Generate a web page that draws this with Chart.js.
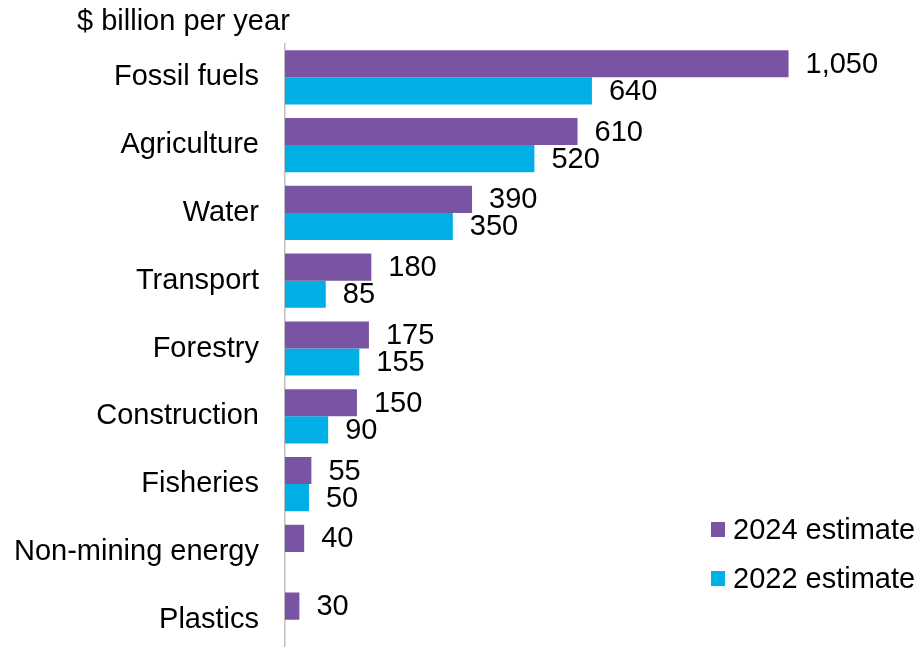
<!DOCTYPE html>
<html>
<head>
<meta charset="utf-8">
<script src="https://cdn.jsdelivr.net/npm/chart.js@4/dist/chart.umd.min.js"></script>
<style>
    html, body { margin: 0; padding: 0; background: #fff; overflow: hidden; }
    canvas { display: block; }
</style>
</head>
<body>
<canvas id="subsidyChart" width="919" height="697"></canvas>
<script>
var sectors = ["Fossil fuels", "Agriculture", "Water", "Transport", "Forestry",
    "Construction", "Fisheries", "Non-mining energy", "Plastics"];
var estimate2024 = [1050, 610, 390, 180, 175, 150, 55, 40, 30];
var estimate2022 = [640, 520, 350, 85, 155, 90, 50, null, null];
var unitLabel = "$ billion per year";

var fontFamily = "'Liberation Sans', Arial, sans-serif";
var fontSize = 29;
var purple = "#7854a2";
var cyan = "#00afe5";

// value labels at the end of each bar
var barLabels = {
    id: 'barLabels',
    afterDatasetsDraw: function (chart) {
        var ctx = chart.ctx;
        ctx.save();
        ctx.font = fontSize + "px " + fontFamily;
        ctx.fillStyle = "#000";
        ctx.textAlign = "left";
        ctx.textBaseline = "middle";
        chart.data.datasets.forEach(function (ds, i) {
            var meta = chart.getDatasetMeta(i);
            meta.data.forEach(function (bar, j) {
                var v = ds.data[j];
                if (v === null) return;
                ctx.fillText(v.toLocaleString("en-US"), bar.x + 17, bar.y + 1);
            });
        });
        ctx.restore();
    }
};

// unit caption and the legend on the right
var extras = {
    id: 'extras',
    afterDraw: function (chart) {
        var ctx = chart.ctx;
        ctx.save();
        ctx.font = fontSize + "px " + fontFamily;
        ctx.fillStyle = "#000";
        ctx.textBaseline = "middle";
        ctx.textAlign = "left";
        ctx.fillText(unitLabel, 77, 22);

        var y = 529.5;
        chart.data.datasets.forEach(function (ds) {
            ctx.fillStyle = ds.backgroundColor;
            ctx.fillRect(711, y - 7.5, 14, 15);
            ctx.fillStyle = "#000";
            ctx.fillText(ds.label, 733, y + 1);
            y += 49;
        });
        ctx.restore();
    }
};

// canvas runs a little below the window; the bottom band is cut off there
var ctx = document.getElementById('subsidyChart').getContext('2d');
var subsidyChart = new Chart(ctx, {
    type: 'bar',
    data: {
        labels: sectors,
        datasets: [{
            label: '2024 estimate',
            data: estimate2024,
            backgroundColor: purple
        }, {
            label: '2022 estimate',
            data: estimate2022,
            backgroundColor: cyan
        }]
    },
    options: {
        indexAxis: 'y',
        responsive: false,
        animation: false,
        categoryPercentage: 0.8,
        barPercentage: 1.0,
        layout: { padding: { top: 42, right: 0, bottom: 0, left: 0 } },
        plugins: {
            legend: { display: false },
            tooltip: { enabled: false }
        },
        scales: {
            x: {
                display: false,
                min: 0,
                max: 1322
            },
            y: {
                grid: { display: false, drawTicks: false },
                border: { display: true, color: '#bfbfbf', width: 1.5 },
                ticks: {
                    color: '#000',
                    padding: 26,
                    font: { family: fontFamily, size: fontSize }
                },
                afterFit: function (scale) {
                    scale.width = 285;
                }
            }
        }
    },
    plugins: [barLabels, extras]
});
</script>
</body>
</html>
